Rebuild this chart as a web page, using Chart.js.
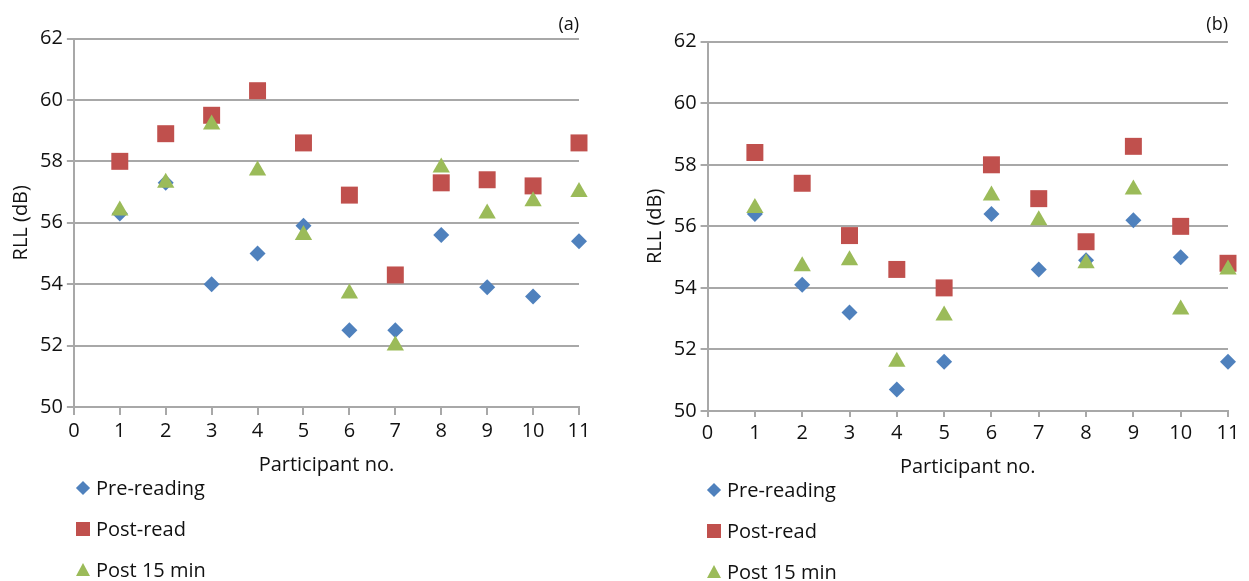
<!DOCTYPE html>
<html>
<head>
<meta charset="utf-8">
<script src="https://cdn.jsdelivr.net/npm/chart.js@4/dist/chart.umd.min.js"></script>
<style>
  body { margin: 0; background: #fff; font-family: "Open Sans", sans-serif; }
  #page { position: relative; width: 1249px; height: 581px; overflow: hidden; }
  .box { position: absolute; top: 0; height: 480px; }
  .legend { position: absolute; font-size: 20px; color: #111; }
  .item { position: absolute; left: 0; white-space: nowrap; height: 24px; line-height: 24px; }
  .mk { position: absolute; top: 12px; }
  .item span.txt { position: absolute; left: 13px; top: 0; }
</style>
</head>
<body>
<div id="page">
  <div class="box" style="left:0;width:600px"><canvas id="chartA"></canvas></div>
  <div class="box" style="left:625px;width:624px"><canvas id="chartB"></canvas></div>
  <div class="legend" id="legA" style="left:83px;top:476px"></div>
  <div class="legend" id="legB" style="left:714px;top:478px"></div>
</div>
<script>
// participant numbers
var participants = [1, 2, 3, 4, 5, 6, 7, 8, 9, 10, 11];
var seriesNames = ["Pre-reading", "Post-read", "Post 15 min"];

// panel (a)
var preA  = [56.3, 57.3, 54.0, 55.0, 55.9, 52.5, 52.5, 55.6, 53.9, 53.6, 55.4];
var postA = [58.0, 58.9, 59.5, 60.3, 58.6, 56.9, 54.3, 57.3, 57.4, 57.2, 58.6];
var p15A  = [56.4, 57.3, 59.2, 57.7, 55.6, 53.7, 52.0, 57.8, 56.3, 56.7, 57.0];

// panel (b)
var preB  = [56.4, 54.1, 53.2, 50.7, 51.6, 56.4, 54.6, 54.9, 56.2, 55.0, 51.6];
var postB = [58.4, 57.4, 55.7, 54.6, 54.0, 58.0, 56.9, 55.5, 58.6, 56.0, 54.8];
var p15B  = [56.6, 54.7, 54.9, 51.6, 53.1, 57.0, 56.2, 54.8, 57.2, 53.3, 54.6];

var colors = ['#4F81BD', '#C0504D', '#9BBB59'];
var styles = ['rectRot', 'rect', 'triangle'];
var radii = [8, 12, 10];
var gridColor = '#a8a8a8';
var txt = '#111';

function pts(vals) {
	return participants.map(function(p, i) { return { x: p, y: vals[i] }; });
}

function makeChart(id, tag, sets, lay) {
	var ctx = document.getElementById(id).getContext('2d');
	var datasets = sets.map(function(vals, i) {
		return {
			label: seriesNames[i],
			data: pts(vals),
			pointStyle: styles[i],
			pointRadius: radii[i],
			backgroundColor: colors[i],
			borderColor: colors[i],
			borderWidth: 0,
			clip: false,
			order: 3 - i
		};
	});
	return new Chart(ctx, {
		type: 'scatter',
		data: { datasets: datasets },
		options: {
			responsive: true,
			maintainAspectRatio: false,
			animation: false,
			layout: { padding: lay.pad },
			plugins: {
				legend: { display: false },
				tooltip: { enabled: false },
				title: {
					display: true,
					text: tag,
					align: 'end',
					color: txt,
					font: { family: 'Open Sans', size: 18, weight: 'normal' },
					padding: lay.titlePad
				}
			},
			scales: {
				x: {
					type: 'linear',
					min: 0,
					max: 11,
					ticks: { stepSize: 1, color: txt, padding: 4, font: { family: 'Open Sans', size: 20 }, maxRotation: 0 },
					grid: { drawOnChartArea: false, drawTicks: true, tickLength: lay.xTick, color: gridColor, lineWidth: 2 },
					border: { color: gridColor, width: 2 },
					title: { display: true, text: 'Participant no.', color: txt, font: { family: 'Open Sans', size: 20 }, padding: { top: 6, bottom: 0 } }
				},
				y: {
					min: 50,
					max: 62,
					ticks: { stepSize: 2, color: txt, padding: 4, font: { family: 'Open Sans', size: 20 } },
					grid: { color: gridColor, lineWidth: 2, tickLength: 7 },
					border: { color: gridColor, width: 2 },
					title: { display: true, text: 'RLL (dB)', color: txt, font: { family: 'Open Sans', size: 20 }, padding: lay.yTitlePad }
				}
			}
		}
	});
}

var chartA = makeChart('chartA', '(a)', [preA, postA, p15A], {
	pad: { left: 2, right: 21, top: 0, bottom: 3 },
	titlePad: { top: 14, bottom: 2.9 },
	xTick: 8,
	yTitlePad: { top: 7, bottom: 3 }
});
var chartB = makeChart('chartB', '(b)', [preB, postB, p15B], {
	pad: { left: 4, right: 21, top: 0, bottom: 1 },
	titlePad: { top: 14.5, bottom: 5.6 },
	xTick: 6,
	yTitlePad: { top: 14, bottom: 2.7 }
});

// legend stacked under each chart, built from the chart's datasets
function buildLegend(chart, elId) {
	var el = document.getElementById(elId);
	chart.data.datasets.forEach(function(ds, i) {
		var row = document.createElement('div');
		row.className = 'item';
		row.style.top = (i * 41) + 'px';
		var mk = document.createElement('div');
		mk.className = 'mk';
		var c = ds.backgroundColor;
		if (ds.pointStyle === 'rectRot') {
			mk.style.cssText = 'left:-5px;margin-top:-5px;width:10px;height:10px;background:' + c + ';transform:rotate(45deg)';
		} else if (ds.pointStyle === 'rect') {
			mk.style.cssText = 'left:-7px;margin-top:-7px;width:14px;height:14px;background:' + c;
		} else {
			mk.style.cssText = 'left:-7.5px;margin-top:-7px;width:0;height:0;border-left:7.5px solid transparent;border-right:7.5px solid transparent;border-bottom:13px solid ' + c;
		}
		var t = document.createElement('span');
		t.className = 'txt';
		t.textContent = ds.label;
		row.appendChild(mk);
		row.appendChild(t);
		el.appendChild(row);
	});
}
buildLegend(chartA, 'legA');
buildLegend(chartB, 'legB');
</script>
</body>
</html>
